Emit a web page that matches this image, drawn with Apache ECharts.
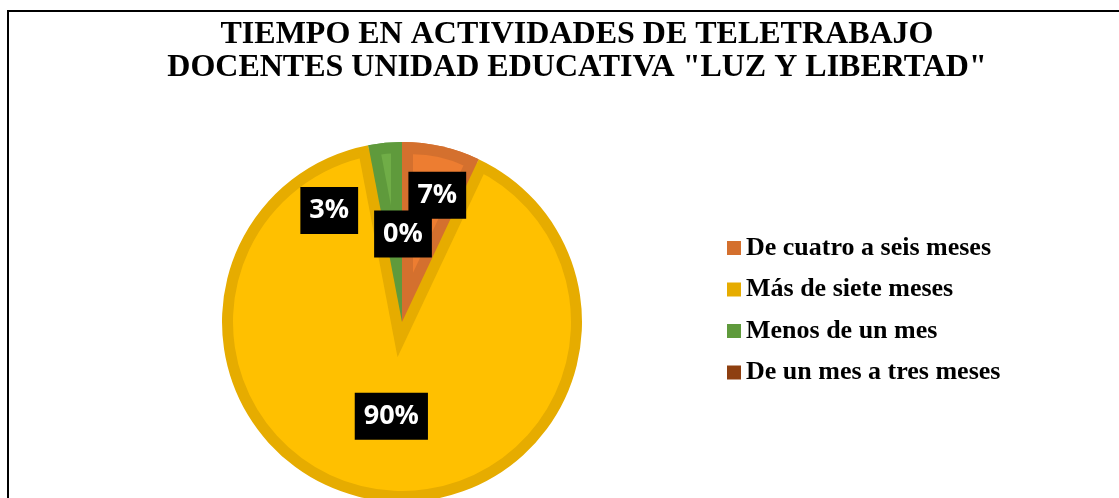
<!DOCTYPE html>
<html>
<head>
<meta charset="utf-8">
<title>Tiempo en actividades de teletrabajo</title>
<script src="https://cdn.jsdelivr.net/npm/echarts@6/dist/echarts.min.js"></script>
<style>
html,body{margin:0;padding:0;background:#fff;}
#grafico{width:1119px;height:498px;}
</style>
</head>
<body>
<div id="grafico"></div>
<script>
// datos del grafico
var titulo = 'TIEMPO EN ACTIVIDADES DE TELETRABAJO\nDOCENTES UNIDAD EDUCATIVA "LUZ Y LIBERTAD"';
var categorias = ['De cuatro a seis meses', 'Más de siete meses', 'Menos de un mes', 'De un mes a tres meses'];
var porcentajes = [7, 90, 3, 0];

// colores: relleno claro y borde oscuro de cada porcion
var colorRelleno = ['#ED7D31', '#FFC000', '#70AD47', '#9E480E'];
var colorBorde = ['#D4702E', '#E6AC00', '#5F9A3C', '#8E3F10'];

// desplazamiento de cada etiqueta (se movieron a mano en el original)
var moverEtiqueta = [[15, -36], [1, 2], [-64, -19], [1, 5]];

var centro = [402, 322];
var radioExt = 180;
var borde = 11;
var radioInt = radioExt - borde;

var total = porcentajes.reduce(function(a, b){ return a + b; }, 0);
var iMayor = porcentajes.indexOf(Math.max.apply(null, porcentajes));

// cuanto hay que correr una porcion para que sus lados queden "borde" px hacia adentro
function desplazamiento(valor){
	return borde / Math.sin(valor / total * Math.PI);
}

function datos(color, elegido){
	return categorias.map(function(nombre, i){
		return {
			name: nombre,
			value: porcentajes[i],
			selected: i === elegido,
			itemStyle: { color: color(i) }
		};
	});
}

function capa(extra){
	var base = {
		type: 'pie',
		center: centro,
		startAngle: 90,
		clockwise: true,
		padAngle: 0,
		silent: true,
		animation: false,
		label: { show: false },
		labelLine: { show: false },
		emphasis: { disabled: true },
		itemStyle: { borderWidth: 0 }
	};
	for (var k in extra){ base[k] = extra[k]; }
	return base;
}

var transparente = function(){ return 'transparent'; };

// capa 1: todo el pastel con el color del borde
var series = [
	capa({ z: 1, radius: radioExt, data: datos(function(i){ return colorBorde[i]; }) }),
	// capa 2: disco claro de la porcion mayor
	capa({ z: 2, radius: radioInt, data: datos(function(){ return colorRelleno[iMayor]; }) })
];

// capa 3: cuña oscura que deja el borde interior de la porcion mayor
var hueco = total - porcentajes[iMayor];
var antes = porcentajes.slice(iMayor + 1).reduce(function(a, b){ return a + b; }, 0);
var offHueco = desplazamiento(hueco);
series.push(capa({
	z: 3,
	radius: radioInt + offHueco + borde / 2,
	startAngle: 90 + antes / total * 360,
	selectedMode: 'single',
	selectedOffset: -offHueco,
	data: [
		{ name: 'hueco', value: hueco, selected: true, itemStyle: { color: colorBorde[iMayor] } },
		{ name: 'resto', value: porcentajes[iMayor], itemStyle: { color: 'transparent' } }
	]
}));

// capa 4: porciones chicas con su color de borde encima de la cuña
series.push(capa({ z: 4, radius: radioExt, data: datos(function(i){ return i === iMayor ? 'transparent' : colorBorde[i]; }) }));

// capa 5: relleno claro de cada porcion chica, corrido hacia afuera
porcentajes.forEach(function(v, i){
	if (i === iMayor || v === 0) return;
	var off = desplazamiento(v);
	series.push(capa({
		z: 5,
		radius: radioInt - off,
		selectedMode: 'single',
		selectedOffset: off,
		data: datos(function(j){ return j === i ? colorRelleno[i] : 'transparent'; }, i)
	}));
});

// capa de etiquetas
series.push(capa({
	z: 8,
	radius: radioExt,
	data: datos(transparente),
	label: {
		show: true,
		position: 'inside',
		formatter: '{c}%',
		color: '#fff',
		backgroundColor: '#000',
		fontFamily: 'Open Sans',
		fontWeight: 'bold',
		fontSize: 27,
		lineHeight: 30,
		padding: [9, 9, 8, 9]
	},
	labelLayout: function(p){
		var d = moverEtiqueta[p.dataIndex];
		return { dx: d[0], dy: d[1] };
	}
}));

var miGrafico = echarts.init(document.getElementById('grafico'), null, { renderer: 'canvas' });
var opcion = {
	backgroundColor: '#fff',
	animation: false,
	title: {
		text: titulo,
		left: 577,
		top: 18,
		padding: 0,
		textAlign: 'center',
		textStyle: {
			fontFamily: 'Liberation Serif',
			fontWeight: 'bold',
			fontSize: 32,
			lineHeight: 33,
			color: '#000'
		}
	},
	legend: {
		orient: 'vertical',
		left: 727,
		top: 235,
		padding: 0,
		data: categorias,
		icon: 'rect',
		itemWidth: 14,
		itemHeight: 14,
		itemGap: 15.5,
		selectedMode: false,
		textStyle: {
			fontFamily: 'Liberation Serif',
			fontWeight: 'bold',
			fontSize: 26,
			color: '#000'
		}
	},
	graphic: [{
		type: 'rect',
		silent: true,
		z: 0,
		shape: { x: 8, y: 11, width: 1300, height: 700 },
		style: { fill: 'none', stroke: '#000', lineWidth: 2 }
	}],
	series: series
};
miGrafico.setOption(opcion);
</script>
</body>
</html>
